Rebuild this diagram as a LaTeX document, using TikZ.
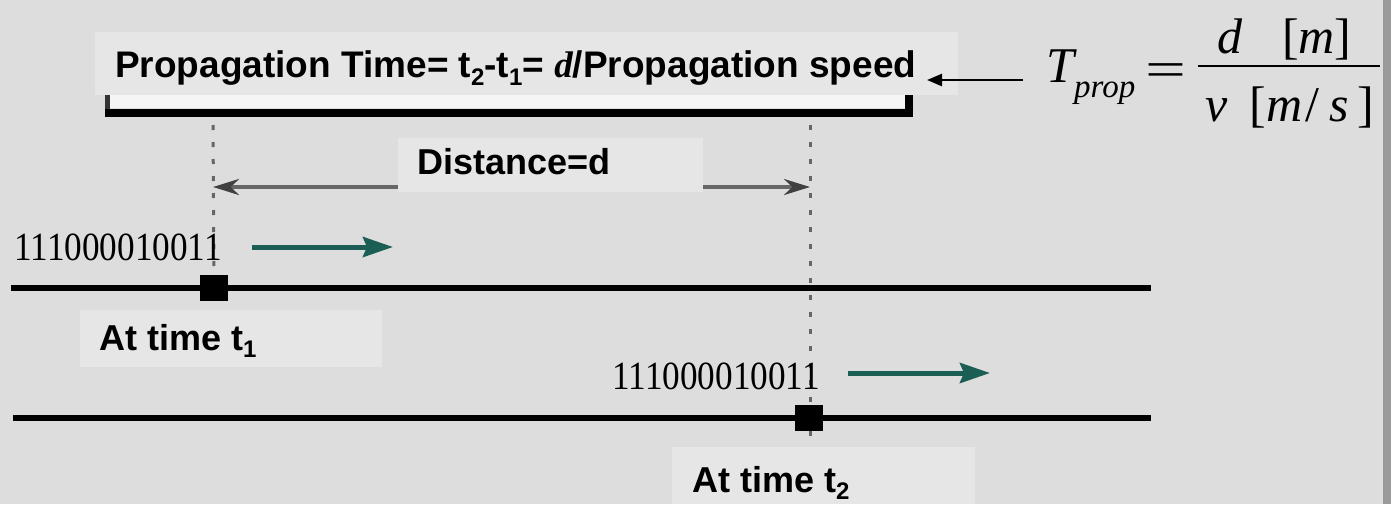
\documentclass[tikz,border=0pt]{standalone}
\usepackage{fontspec}
\usepackage{graphicx}
\setmainfont{Liberation Sans}
\newfontfamily\serifface{Liberation Serif}
\usetikzlibrary{arrows.meta}

\definecolor{bgcol}{HTML}{DDDDDD}
\definecolor{labelcol}{HTML}{E6E6E6}
\definecolor{wavecol}{HTML}{1B5E54}
\definecolor{dimcol}{HTML}{666666}
\definecolor{edgecol}{HTML}{9A9A9A}

% lowered small index for t_1, t_2
\newcommand\lowidx[1]{\raisebox{-0.22em}{\fontsize{24}{24}\selectfont #1}}

\begin{document}
\begin{tikzpicture}[x=1pt,y=-1pt,
  lbl/.style={font=\bfseries\fontsize{36}{40}\selectfont, inner sep=0pt, anchor=base west},
  labelbox/.style={fill=labelcol, draw=none},
  bits/.style={font=\serifface\fontsize{40}{40}\selectfont, inner sep=0pt, anchor=base east},
  fml/.style={font=\serifface\fontsize{50}{50}\selectfont, inner sep=0pt, anchor=base west},
  fmlsub/.style={font=\serifface\itshape\fontsize{33}{33}\selectfont, inner sep=0pt, anchor=base west},
  wire/.style={line width=6.5pt, black},
  packet/.style={fill=black, draw=none, minimum width=28pt, minimum height=26pt, inner sep=0pt},
  guide/.style={line width=3pt, dimcol, dash pattern=on 5pt off 12pt},
  dimline/.style={line width=4pt, dimcol, {Stealth[length=26pt,width=16pt,black!75]}-{Stealth[length=26pt,width=16pt,black!75]}},
  motion/.style={line width=5pt, wavecol, -{Stealth[length=30pt,width=20pt,inset=4pt]}},
  pointer/.style={line width=2.5pt, black, -{Triangle[length=15pt,width=12pt]}}
]
% canvas
\fill[bgcol] (0,0) rectangle (1391,504);
\useasboundingbox (0,0) rectangle (1391,504);
\fill[edgecol] (1383,0) rectangle (1391,504);

% frame under the heading
\fill[white!92!gray] (107,95) rectangle (909,108);
\draw[line width=5pt, black!80] (107,95) -- (107,113);
\draw[line width=8pt, black] (105,113) -- (909,113) -- (909,95);

% vertical guides
\coordinate (top1) at (213,125);
\coordinate (top2) at (810,125);
\coordinate (bot2) at (810,447);
\node[packet] (sq1) at (214,288) {};
\node[packet] (sq2) at (809,418) {};
\draw[guide] (top1) -- (sq1.north);
\draw[guide] (top2) -- (bot2);

% distance dimension
\coordinate (dL) at (213,187);
\coordinate (dR) at (810,187);
\draw[dimline] (dL) -- (dR);

% label backgrounds
\fill[labelbox] (95,32) rectangle (958,95);
\fill[labelbox] (398,138) rectangle (703,192);
\fill[labelbox] (80,310) rectangle (382,367);
\fill[labelbox] (672,447) rectangle (975,504);

% links
\coordinate (w1a) at (11,288);
\coordinate (w1b) at (1151,288);
\coordinate (w2a) at (13,418);
\coordinate (w2b) at (1151,418);
\draw[wire] (w1a) -- (sq1.west);
\draw[wire] (sq1.east) -- (w1b);
\draw[wire] (w2a) -- (sq2.west);
\draw[wire] (sq2.east) -- (w2b);
\node[packet] at (sq1) {};
\node[packet] at (sq2) {};

% bit streams and their direction
\node[bits] (bits1) at (222,260) {\scalebox{0.88}[1]{111000010011}};
\node[bits] (bits2) at (820,389) {\scalebox{0.88}[1]{111000010011}};
\coordinate (m1a) at (252,247);
\coordinate (m1b) at (393,247);
\coordinate (m2a) at (848,373);
\coordinate (m2b) at (990,373);
\draw[motion] (m1a) -- (m1b);
\draw[motion] (m2a) -- (m2b);

% texts
\node[lbl, font=\bfseries\fontsize{37}{40}\selectfont] (ptime) at (115,77) {Propagation Time= t\lowidx{2}-t\lowidx{1}= {\serifface\itshape d}/Propagation speed};
\node[lbl] (dist) at (417,174) {Distance=d};
\node[lbl] (at1) at (99,350) {At time t\lowidx{1}};
\node[lbl] (at2) at (692,492) {At time t\lowidx{2}};

% formula
\node[fml] (T) at (1046,82) {\itshape T};
\node[fmlsub] (Tsub) at (1074,97) {prop};
\node[fml, anchor=base] (eq) at (1166,86) {\scalebox{1.45}[1]{=}};
\coordinate (fracL) at (1198,66);
\coordinate (fracR) at (1380,66);
\draw[line width=2.5pt] (fracL) -- (fracR);
\node[fml] (num) at (1217,53) {{\itshape d}\hspace{40pt}[{\itshape m}]};
\node[fml] (den) at (1205,121) {{\itshape v}\hspace{22pt}[{\itshape m}\hspace{3pt}/\hspace{10pt}{\itshape s}\hspace{9pt}]};

% arrow from formula to heading
\coordinate (pstart) at (1023,80);
\coordinate (pend) at (927,80);
\draw[pointer] (pstart) -- (pend);
\end{tikzpicture}
\end{document}
